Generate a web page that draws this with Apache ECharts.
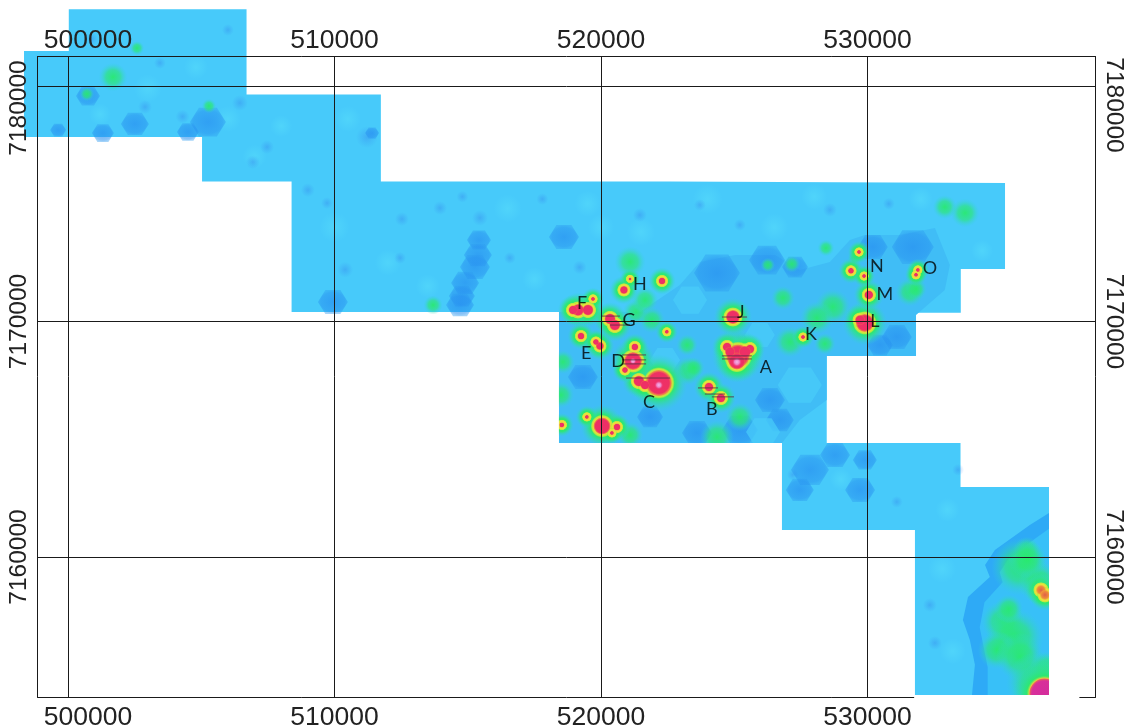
<!DOCTYPE html>
<html><head><meta charset="utf-8">
<script src="https://cdn.jsdelivr.net/npm/echarts@6/dist/echarts.min.js"></script>
<style>html,body{margin:0;padding:0;background:#fff}#c{width:1127px;height:728px}</style>
</head><body><div id="c"></div>
<script>
// Axis extents and ticks (map easting / northing)
const eastMin = 498856, eastMax = 538555, northMin = 7154055, northMax = 7181253;
const eastTicks = [500000, 510000, 520000, 530000];
const northTicks = [7160000, 7170000, 7180000];

// Survey outline
const surveyOutline = [[500030,7183260],[506700,7183260],[506700,7179640],[511740,7179640],[511740,7175950],[522590,7175950],[535160,7175880],[535160,7172230],[533500,7172230],[533500,7170370],[531820,7170370],[531820,7168540],[528470,7168540],[528470,7164840],[533490,7164840],[533490,7162970],[536810,7162970],[536810,7154140],[531780,7154140],[531780,7161150],[526790,7161150],[526790,7164840],[518420,7164840],[518420,7170400],[508390,7170400],[508390,7175950],[505030,7175950],[505030,7177830],[498350,7177830],[498350,7181490],[500030,7181490]];
// Lower-field zones
const centralZone = [[518420,7170400],[521460,7170400],[522960,7171550],[523710,7172530],[525030,7172820],[526530,7172820],[527460,7172190],[528590,7172530],[529340,7173460],[529900,7173670],[531220,7173670],[532530,7173970],[533090,7172400],[532900,7171340],[531820,7170280],[531820,7168540],[528470,7168540],[528470,7166670],[527460,7165820],[526790,7164840],[518420,7164840]];
const southEdgeZone = [[536810,7161870],[536090,7161360],[534780,7160300],[534410,7159660],[534590,7159150],[533770,7158300],[533580,7157330],[533840,7156480],[534030,7155420],[533920,7154140],[536810,7154140]];
const southInnerZone = [[536810,7161200],[536280,7160780],[535260,7159860],[534960,7159350],[535070,7158930],[534390,7158080],[534210,7157010],[534510,7155320],[534510,7154140],[536810,7154140]];
// Blank ground around the survey
const blankRight = [[536810,7162970],[538500,7162970],[538500,7154140],[536810,7154140]];
const blankWest = [[517700,7170400],[518420,7170400],[518420,7164100],[517700,7164100]];
const blankSouth = [[517700,7164840],[526790,7164840],[526790,7163700],[517700,7163700]];
const blankBottom = [[531000,7154140],[538500,7154140],[538500,7151000],[531000,7151000]];
const blankFrame = [[531750,7154140],[537950,7154140],[537950,7153970],[531750,7153970]];

// Low patches
const lowE = [500750,502510,501310,499630,505250,504500,511410,509940,518610,515420,515380,515270,514900,514780,514710,524350,526230,527280,530200,531700,531100,530470,521840,523600,525210,519320,526710,526340,527840,529720,528780,527460,529900];
const lowN = [7179580,7178390,7178000,7178130,7178470,7178050,7178000,7170830,7173590,7173460,7172820,7172310,7171640,7171080,7170700,7172060,7172610,7172310,7173160,7173160,7169340,7169000,7165950,7165270,7165390,7167640,7165820,7166670,7163700,7162850,7164330,7162850,7164120];
const lowW = [24,28,22,16,36,22,14,30,30,24,28,30,28,26,28,46,36,26,30,42,30,26,26,30,36,30,28,30,38,30,30,28,24];
// Pale patches
const paleE = [527460,526080,522400,523340,525960];
const paleN = [7167300,7165310,7168370,7170910,7169430];
const paleW = [44,34,30,34,30];
// Small dark spots
const spotE = [509000,509720,512530,513960,515460,516580,512460,502890,506450,506000,503450,506940,511220,507470,532530,531100,532340,521460,525210,528590,523710,500900,504300,510400,517800,519200,530800,533400,514800,527200];
const spotN = [7175580,7175030,7174350,7174820,7174400,7172700,7172700,7179110,7179280,7182380,7180980,7176770,7177830,7177410,7156350,7162340,7157960,7174520,7174100,7174740,7174950,7182000,7178700,7172200,7175200,7172300,7175000,7163700,7175300,7163500];
const spotW = [14,12,14,14,16,12,12,14,16,12,12,14,22,14,14,12,14,14,12,14,12,12,14,16,12,14,12,12,12,12];
// Small pale spots
const glowE = [503000,504800,501200,506000,508000,510500,510000,512000,513500,516500,517500,519500,521500,524000,526500,528000,532000,534300,533000,532800,533200,529000,520000,507000];
const glowN = [7179900,7180800,7178800,7178600,7178300,7178600,7174000,7172500,7171500,7174800,7171800,7175000,7173800,7175200,7174000,7175300,7175200,7173000,7162000,7159500,7156000,7163300,7174000,7177000];
const glowW = [28,24,22,26,22,26,30,26,24,28,24,26,28,30,28,26,24,22,24,28,26,22,26,24];

// Moderate anomalies
const fieldE = [521090,521310,521650,521910,518570,523260,523490,523230,524350,525210,526260,527160,528440,526830,528700,528100,527090,528400,531590,531820,529530,532900,533660,513700,501690,500710,502590,505290,518500,521090,535980,535720,536470,535080,535530,534860,535720,536730,536360,535300,536000];
const fieldN = [7172530,7170400,7170910,7170060,7168280,7167900,7168030,7169000,7165100,7165950,7172400,7172440,7173120,7171000,7170620,7170150,7169130,7169050,7171250,7171380,7172700,7174860,7174610,7170700,7180380,7179660,7181610,7179150,7166880,7165180,7160300,7159580,7158900,7157240,7156600,7156050,7155760,7155290,7154650,7157800,7159900];
const fieldAmp = [13,11,11,11,10,12,9,9,14,12,6,7,7,10,15,14,13,9,12,9,6,10,12,8,12,6,6,6,11,11,11,24,18,18,24,16,20,14,26,12,16];

// Strong anomalies
const hotE = [522170,521420,521650,521200,521270,520900,525140,525100,524730,525590,524840,525400,524050,524500,524950,519140,519510,518950,519700,520340,520520,519250,519960,519810,522290,520860,521090,522470,520040,520600,519470,518530,520410,529900,529720,530050,529680,529380,529870,531890,531820,527580];
const hotN = [7167390,7167470,7167300,7168320,7168920,7167940,7168540,7168320,7168920,7168830,7168710,7168710,7167220,7166750,7170190,7170490,7170490,7170490,7170960,7170110,7169850,7169380,7168960,7169130,7171720,7171340,7171810,7169560,7165560,7165520,7165950,7165610,7165270,7169940,7170060,7171130,7172950,7172150,7171930,7172190,7171980,7169340];
const hotAmp = [26,11,9,18,7,6,23,17,9,9,10,12,9,9,14,12,11,9,4,11,11,7,8,6,7,8,3,4,17,7,4,5,4,18,10,9,4,6,4,4,4,4];
// Warm anomalies on the south edge
const warmE = [536510,536660];
const warmN = [7158600,7158390];
const warmAmp = [10,10];
// Peak on the south edge
const crestE = [536640];
const crestN = [7154200];
const crestAmp = [30];
// Peaks
const peakE = [522170,525100,521200];
const peakN = [7167300,7168280,7168320];
const peakAmp = [9,10,7];

// Strike lines
const strikeE1 = [524540,524540,520790,520790,520790,520940,523640,523900,524160,524540,520000,520340];
const strikeE2 = [525660,525660,521690,521690,521690,522590,524390,524650,524990,525480,520710,521090];
const strikeN = [7168540,7168410,7168580,7168370,7168200,7167600,7167180,7166920,7166800,7170190,7170230,7169850];

// Anomaly letters
const letterText = ['A','B','C','D','E','F','G','H','J','K','L','M','N','O'];
const letterE = [526190,524160,521800,520640,519440,519290,521050,521460,525250,527880,530280,530650,530350,532340];
const letterN = [7168070,7166290,7166580,7168320,7168660,7170790,7170060,7171590,7170400,7169470,7170020,7171170,7172360,7172270];

const zip = (...a) => a[0].map((_, i) => a.map(c => c[i]));
const radial = stops => ({type:'radial', x:.5, y:.5, r:.5, colorStops: stops.map(s => ({offset:s[0], color:s[1]}))});
const hexPath = 'path://M0 50L25 0H75L100 50L75 100H25Z';

function polygon(points, color, z) {
  return {type:'custom', coordinateSystem:'cartesian2d', silent:true, z, clip:false, animation:false,
    encode:{x:0,y:1}, data:points,
    renderItem:(p, api) => p.dataIndexInside ? null : ({type:'polygon',
      shape:{points:points.map(q => api.coord(q))}, style:{fill:color}})};
}
function blobs(data, sizeFn, fill, z, symbol) {
  return {type:'scatter', silent:true, z, clip:false, animation:false, data,
    symbol:symbol||'circle', symbolSize:sizeFn, itemStyle:{color:fill, opacity:1}};
}
const haloFill = radial([[0,'rgba(40,235,100,1)'],[.55,'rgba(45,232,110,.92)'],[1,'rgba(50,210,215,0)']]);
const ringFill = radial([[0,'#f0d040'],[.75,'#e8e23c'],[.9,'rgba(190,235,60,.9)'],[1,'rgba(120,235,80,0)']]);

const series = [
  polygon(surveyOutline, '#47cafa', 1),
  polygon(centralZone, '#40bdf6', 1),
  blobs(zip(glowE,glowN,glowW), v=>v[2], radial([[0,'rgba(90,225,250,.45)'],[1,'rgba(90,225,250,0)']]), 1),
  blobs(zip(spotE,spotN,spotW), v=>v[2], radial([[0,'rgba(50,120,235,.34)'],[1,'rgba(50,130,240,0)']]), 1),
  blobs(zip(lowE,lowN,lowW), v=>[v[2],v[2]*.8], radial([[0,'rgba(38,140,240,.68)'],[.8,'rgba(40,145,240,.55)'],[1,'rgba(45,155,240,.42)']]), 1, hexPath),
  blobs(zip(paleE,paleN,paleW), v=>[v[2],v[2]*.8], 'rgba(72,205,250,.7)', 1, hexPath),
  polygon(southEdgeZone, '#2eaaf6', 1),
  polygon(southInnerZone, '#38c0f8', 1),
  blobs(zip(fieldE,fieldN,fieldAmp), v=>v[2]*2.4, radial([[0,'rgba(40,235,105,.9)'],[.5,'rgba(45,230,125,.68)'],[1,'rgba(50,210,220,0)']]), 2),
  blobs(zip(hotE,hotN,hotAmp), v=>v[2]*1.6+16, haloFill, 2),
  blobs(zip(warmE,warmN,warmAmp), v=>v[2]*1.6+16, haloFill, 2),
  blobs(zip(crestE,crestN,crestAmp), v=>v[2]*1.6+16, haloFill, 2),
  blobs(zip(hotE,hotN,hotAmp), v=>v[2]+6, ringFill, 3),
  blobs(zip(warmE,warmN,warmAmp), v=>v[2]+6, ringFill, 3),
  blobs(zip(crestE,crestN,crestAmp), v=>v[2]+6, radial([[0,'#f0a040'],[.85,'#e8d040'],[1,'rgba(120,235,80,0)']]), 3),
  blobs(zip(hotE,hotN,hotAmp), v=>v[2], radial([[0,'#ee2f68'],[.8,'#ee3064'],[1,'rgba(240,110,70,.55)']]), 4),
  blobs(zip(warmE,warmN,warmAmp), v=>v[2], radial([[0,'#e0604a'],[.7,'#ee8a3c'],[1,'rgba(240,170,60,.5)']]), 4),
  blobs(zip(crestE,crestN,crestAmp), v=>v[2], radial([[0,'#d42c9c'],[.85,'#d8309a'],[1,'rgba(235,80,90,.8)']]), 4),
  blobs(zip(peakE,peakN,peakAmp), v=>v[2], radial([[0,'#f3b6e8'],[.5,'#ee80c4'],[1,'rgba(238,48,110,0)']]), 5),
  polygon(blankRight, '#fff', 6),
  polygon(blankWest, '#fff', 6),
  polygon(blankSouth, '#fff', 6),
  polygon(blankBottom, '#fff', 6),
  {type:'custom', coordinateSystem:'cartesian2d', silent:true, z:7, clip:false, animation:false,
    encode:{x:[0,1],y:2}, data:zip(strikeE1,strikeE2,strikeN),
    renderItem:(p, api) => {
      const a = api.coord([api.value(0), api.value(2)]), b = api.coord([api.value(1), api.value(2)]);
      return {type:'line', shape:{x1:a[0],y1:a[1],x2:b[0],y2:b[1]}, style:{stroke:'rgba(95,45,70,.85)', lineWidth:1}};
    }},
  {type:'scatter', silent:true, z:12, clip:false, animation:false, symbolSize:0,
    data:zip(letterE,letterN,letterText),
    label:{show:true, position:'inside', formatter:p=>p.value[2], color:'#000', fontFamily:'Lato', fontSize:18}},
  polygon(blankFrame, '#fff', 12)
];

const lineStyle = {color:'#1a1a1a', width:1};
const xFont = {color:'#222', fontFamily:'Liberation Sans', fontSize:26.5};
const yFont = {color:'#222', fontFamily:'Liberation Sans', fontSize:24.5};
const xBase = pos => ({type:'value', position:pos, min:eastMin, max:eastMax, z:10,
  axisLine:{show:true, onZero:false, lineStyle}, axisTick:{show:false, customValues:eastTicks},
  splitLine:{show:pos==='bottom', lineStyle},
  axisLabel:Object.assign({show:true, customValues:eastTicks, margin:pos==='top'?2:7,
    formatter:v=>v===500000?'{shift|'+v+'}':String(v),
    rich:{shift:Object.assign({}, xFont, {padding:[0,0,0,40]})}}, xFont)});
const yBase = pos => ({type:'value', position:pos, min:northMin, max:northMax, z:10,
  axisLine:{show:true, onZero:false, lineStyle}, axisTick:{show:false, customValues:northTicks},
  splitLine:{show:pos==='left', lineStyle},
  axisLabel:Object.assign({show:true, customValues:northTicks, rotate:pos==='left'?90:-90, margin:6,
    formatter:v=>v===7180000?'{shift|'+v+'}':String(v),
    rich:{shift:Object.assign({}, yFont, {padding:pos==='left'?[0,44,0,0]:[0,0,0,38]})}}, yFont)});

const chart = echarts.init(document.getElementById('c'), null, {renderer:'canvas'});
chart.setOption({
  animation:false, backgroundColor:'#fff',
  grid:{left:37.5, top:56.5, width:1058, height:640.5, containLabel:false, outerBoundsMode:'none'},
  xAxis:[xBase('bottom'), xBase('top')],
  yAxis:[yBase('left'), yBase('right')],
  series
});
</script></body></html>
